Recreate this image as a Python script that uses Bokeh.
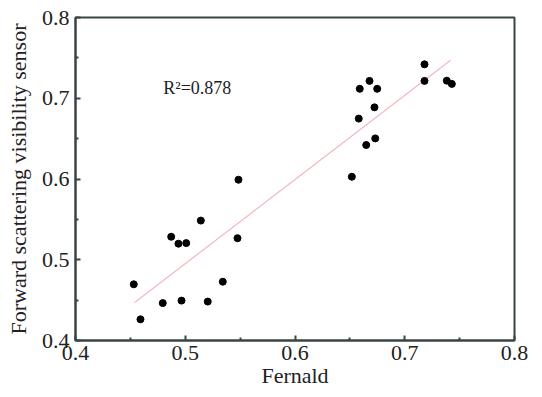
from bokeh.plotting import figure
from bokeh.models import FixedTicker, Range1d, Label
from bokeh.embed import file_html
from bokeh.resources import INLINE
import numpy as np

# Data
fernald = [0.4531, 0.4592, 0.4795, 0.4872, 0.4938, 0.5009, 0.4966, 0.5142,
           0.5205, 0.5342, 0.5476, 0.5485, 0.6518, 0.6581, 0.6590, 0.6649,
           0.6679, 0.6724, 0.6731, 0.6749, 0.7180, 0.7180, 0.7383, 0.7429]
sensor = [0.4696, 0.4262, 0.4463, 0.5285, 0.5199, 0.5206, 0.4494, 0.5485,
          0.4482, 0.4728, 0.5267, 0.5991, 0.6028, 0.6748, 0.7117, 0.6421,
          0.7215, 0.6887, 0.6503, 0.7117, 0.7420, 0.7215, 0.7218, 0.7178]
fit_slope = 1.0427
fit_intercept = -0.0262
fit_x = [0.4538, 0.7417]
x_ticks = [0.4, 0.5, 0.6, 0.7, 0.8]
x_minor = [0.45, 0.55, 0.65, 0.75]
y_ticks = [0.4, 0.5, 0.6, 0.7, 0.8]
y_minor = [0.45, 0.55, 0.65, 0.75]
r2_text = "R\u00b2=0.878"

fit_y = [fit_slope * v + fit_intercept for v in fit_x]

FONT = "Liberation Serif"
FRAME = "#3a4444"

p = figure(width=534, height=390, output_backend="svg", toolbar_location=None,
           x_range=Range1d(0.4, 0.8), y_range=Range1d(0.4, 0.8),
           min_border_left=75, min_border_top=17, min_border_right=20,
           min_border_bottom=47)
p.grid.visible = False
p.outline_line_color = FRAME
p.outline_line_width = 2
p.background_fill_color = "white"

p.line(fit_x, fit_y, line_color="#f4b6bf", line_width=1.2)
p.scatter(fernald, sensor, size=7, fill_color="black", line_color="black")

for ax, ticks, minor in ((p.xaxis[0], x_ticks, x_minor), (p.yaxis[0], y_ticks, y_minor)):
    ax.ticker = FixedTicker(ticks=ticks, minor_ticks=minor)
    ax.axis_line_color = FRAME
    ax.axis_line_width = 2
    ax.major_tick_line_color = FRAME
    ax.minor_tick_line_color = FRAME
    ax.major_tick_line_width = 2
    ax.minor_tick_line_width = 2
    ax.major_tick_in = 5
    ax.major_tick_out = 0
    ax.minor_tick_in = 3
    ax.minor_tick_out = 0
    ax.major_label_text_font = FONT
    ax.major_label_text_font_size = "22px"
    ax.major_label_text_color = "#222222"
    ax.axis_label_text_font = FONT
    ax.axis_label_text_font_size = "22px"
    ax.axis_label_text_font_style = "normal"
    ax.axis_label_text_color = "#222222"

p.xaxis[0].axis_label = "Fernald"
p.yaxis[0].axis_label = "Forward scattering visibility sensor"
p.xaxis[0].major_label_standoff = 5
p.xaxis[0].axis_label_standoff = 0
p.yaxis[0].major_label_standoff = 6
p.yaxis[0].axis_label_standoff = 8

p.add_layout(Label(x=0.48, y=0.713, text=r2_text, text_font=FONT,
                   text_font_size="18px", text_color="#222222",
                   text_baseline="middle"))

open("out.html", "w").write(file_html(p, INLINE))
